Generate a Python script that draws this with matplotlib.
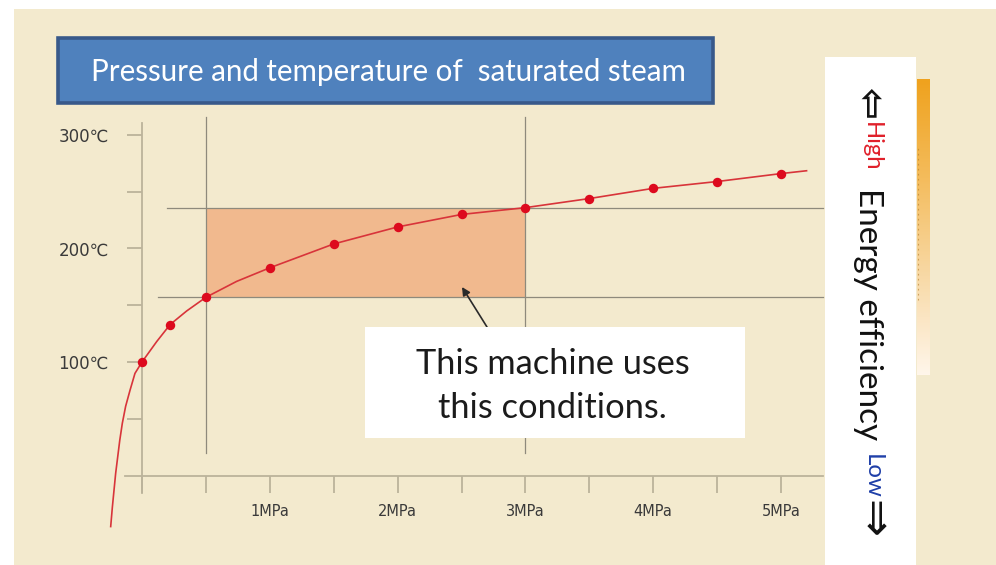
import matplotlib
matplotlib.use("Agg")
import matplotlib.pyplot as plt
import numpy as np
from matplotlib.patches import Rectangle
from matplotlib.lines import Line2D
from matplotlib.colors import LinearSegmentedColormap

# ---------------- data ----------------
pressure_pts = [0.0, 0.22, 0.5, 1.0, 1.5, 2.0, 2.5, 3.0, 3.5, 4.0, 4.5, 5.0]
temp_pts = [100, 133, 157, 183, 204, 219, 230, 236, 244, 253, 259, 266]

# points (including its tail below the axis)
curve_p = [-0.245, -0.232, -0.206, -0.174, -0.154, -0.128, -0.094, -0.055,
           0.0, 0.115, 0.22, 0.35, 0.5, 0.74, 1.0, 1.5,
           2.0, 2.5, 3.0, 3.5, 4.0, 4.5, 5.0, 5.2]
curve_t = [-45, -28, 2, 31, 46, 61, 75, 90,
           100, 118, 133, 145, 157, 171, 183, 204,
           219, 230, 236, 244, 253, 259, 266, 268.5]

range_p = [0.5, 3.0]
range_t = [157, 236]

x_ticks = [0, 0.5, 1, 1.5, 2, 2.5, 3, 3.5, 4, 4.5, 5]
x_tick_labels = ["", "", "1MPa", "", "2MPa", "", "3MPa", "", "4MPa", "", "5MPa"]
y_ticks = [50, 100, 150, 200, 250, 300]
y_tick_labels = ["", "100℃", "", "200℃", "", "300℃"]

title = "Pressure and temperature of  saturated steam"
note_lines = ["This machine uses", "this conditions."]

# ---------------- layout ----------------
W, H = 996, 565
fig = plt.figure(figsize=(W / 100, H / 100), dpi=100)
fig.patch.set_facecolor("white")

def fx(px):
    return px / W

def fy(py):
    return 1 - py / H

fig.add_artist(Rectangle((fx(14), fy(565)), fx(996) - fx(14), fy(9) - fy(565),
                         transform=fig.transFigure, facecolor="#F3EACE",
                         edgecolor="none", zorder=-10))

X0, PXM = 142.0, 127.8
Y0, PXD = 475.5, 1.135
AL, AR, AT, AB = 100, 830, 110, 535
ax = fig.add_axes([fx(AL), fy(AB), fx(AR) - fx(AL), fy(AT) - fy(AB)])
ax.patch.set_visible(False)
ax.set_xlim((AL - X0) / PXM, (AR - X0) / PXM)
ax.set_ylim((Y0 - AB) / PXD, (Y0 - AT) / PXD)

axis_col = "#BBB39B"
grid_col = "#8E8A7C"
for s in ["top", "right"]:
    ax.spines[s].set_visible(False)
ax.spines["left"].set_position(("data", 0))
ax.spines["bottom"].set_position(("data", 0))
ax.spines["left"].set_bounds((Y0 - 493) / PXD, (Y0 - 123) / PXD)
ax.spines["bottom"].set_bounds((125 - X0) / PXM, (823 - X0) / PXM)
for s in ["left", "bottom"]:
    ax.spines[s].set_color(axis_col)
    ax.spines[s].set_linewidth(1.3)

tick_family = ["Liberation Sans Narrow", "DejaVu Sans"]
ax.set_xticks(x_ticks)
ax.set_xticklabels(x_tick_labels, color="#3a3a3a", family=tick_family, size=10.5)
ax.set_yticks(y_ticks)
ax.set_yticklabels(y_tick_labels, color="#3a3a3a", family=tick_family, size=12)
ax.tick_params(axis="x", direction="out", length=12.5, width=1.3, color=axis_col, pad=8)
ax.tick_params(axis="y", direction="out", length=11, width=1.3, color=axis_col, pad=13)

ax.add_patch(Rectangle((range_p[0], range_t[0]), range_p[1] - range_p[0],
                       range_t[1] - range_t[0], facecolor="#F1B98E",
                       edgecolor="none", zorder=1))

for p in range_p:
    ax.plot([p, p], [(Y0 - 453) / PXD, (Y0 - 117) / PXD], color=grid_col, lw=0.9, zorder=2)
ax.plot([(167 - X0) / PXM, (823 - X0) / PXM], [range_t[1]] * 2, color=grid_col, lw=0.9, zorder=2)
ax.plot([(158 - X0) / PXM, (823 - X0) / PXM], [range_t[0]] * 2, color=grid_col, lw=0.9, zorder=2)

ax.plot(curve_p, curve_t, color="#D8343A", lw=1.2, zorder=3, clip_on=False,
        solid_joinstyle="round")
ax.plot(pressure_pts, temp_pts, "o", color="#DD0A1E", ms=6.8, mec="none", zorder=4)

ax.annotate("", xy=((462 - X0) / PXM, (Y0 - 287) / PXD),
            xytext=((487 - X0) / PXM, (Y0 - 327) / PXD),
            arrowprops=dict(arrowstyle="-|>", color="#2a2a2a", lw=1.2,
                            mutation_scale=12, shrinkA=0, shrinkB=0), zorder=5)

renderer = fig.canvas.get_renderer()

def fit(t, target, use_height=False):
    for _ in range(3):
        bb = t.get_window_extent(renderer)
        cur = bb.height if use_height else bb.width
        t.set_fontsize(t.get_fontsize() * target / cur)

fig.add_artist(Rectangle((fx(58), fy(103)), fx(713) - fx(58), fy(38) - fy(103),
                         transform=fig.transFigure, facecolor="#4F81BD",
                         edgecolor="#38598A", lw=2.6, zorder=5))
t = fig.text(fx(388), fy(81), title, color="white", ha="center", va="baseline",
             family=["Lato", "DejaVu Sans"], fontsize=19, zorder=6)
fit(t, 596)

fig.add_artist(Rectangle((fx(365), fy(438)), fx(745) - fx(365), fy(327) - fy(438),
                         transform=fig.transFigure, facecolor="white",
                         edgecolor="none", zorder=5))
t1 = fig.text(fx(552.5), fy(374), note_lines[0], color="#1b1b1b", ha="center",
              va="baseline", family=["Lato", "DejaVu Sans"], fontsize=24, zorder=6)
fit(t1, 275)
t2 = fig.text(fx(552.5), fy(418), note_lines[1], color="#1b1b1b", ha="center",
              va="baseline", family=["Lato", "DejaVu Sans"],
              fontsize=t1.get_fontsize(), zorder=6)

fig.add_artist(Rectangle((fx(825), fy(565)), fx(916) - fx(825), fy(57) - fy(565),
                         transform=fig.transFigure, facecolor="white",
                         edgecolor="none", zorder=5))

bar_ax = fig.add_axes([fx(917), fy(375), fx(930) - fx(917), fy(79) - fy(375)])
cmap = LinearSegmentedColormap.from_list(
    "eff", ["#FFF6EA", "#F8D9A6", "#F4BC5C", "#EFA21E"])
bar_ax.imshow(np.linspace(0, 1, 200)[::-1].reshape(-1, 1), aspect="auto", cmap=cmap,
              extent=[0, 1, 0, 1])
bar_ax.axis("off")
fig.add_artist(Line2D([fx(917.5)] * 2, [fy(300), fy(145)], transform=fig.transFigure,
                      color="#B07828", lw=0.8, ls=(0, (1.5, 3)), alpha=0.6, zorder=6))

fam = ["Lato", "DejaVu Sans"]
a1 = fig.text(fx(868), fy(104), "⇦", rotation=-90, ha="center", va="center",
              family=["DejaVu Sans"], color="#111111", fontsize=14, zorder=7,
              fontweight="bold")
fit(a1, 32, use_height=True)
h1 = fig.text(fx(871), fy(147), "High", rotation=-90, ha="center", va="center",
              family=fam, color="#E0202A", fontsize=12, zorder=7)
fit(h1, 50, use_height=True)
e1 = fig.text(fx(868), fy(314), "Energy efficiency", rotation=-90, ha="center",
              va="center", family=fam, color="#111111", fontsize=22, zorder=7)
fit(e1, 252, use_height=True)
l1 = fig.text(fx(872), fy(476), "Low", rotation=-90, ha="center", va="center",
              family=fam, color="#1F3FA8", fontsize=12, zorder=7)
fit(l1, 45, use_height=True)
a2 = fig.text(fx(872), fy(519), "⇒", rotation=-90, ha="center", va="center",
              family=["DejaVu Sans"], color="#111111", fontsize=20, zorder=7)
fit(a2, 38, use_height=True)

fig.savefig("out.png", dpi=100)
